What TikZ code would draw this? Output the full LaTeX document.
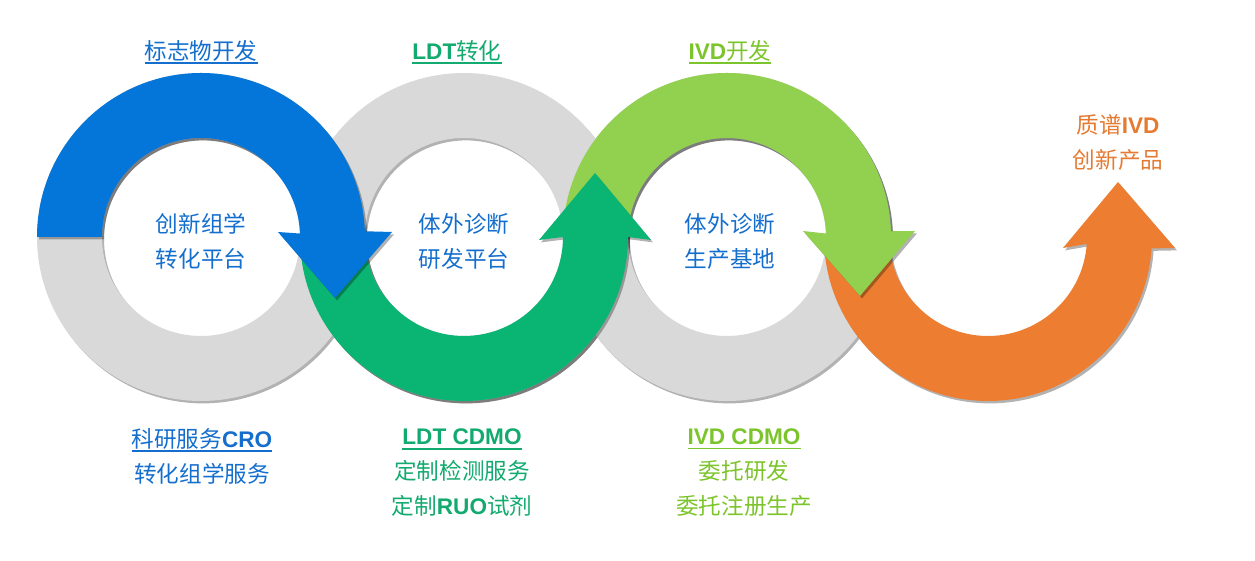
\documentclass[tikz,border=0pt]{standalone}
\usepackage{fontspec}
\setmainfont{Noto Sans CJK SC}
\newfontfamily\latin{Liberation Sans}
\usetikzlibrary{shadows}

\definecolor{ringgray}{RGB}{217,217,217}
\definecolor{bandblue}{RGB}{4,117,217}
\definecolor{bandgreen}{RGB}{10,181,116}
\definecolor{bandlime}{RGB}{146,208,80}
\definecolor{bandorange}{RGB}{237,125,49}
\definecolor{txtblue}{RGB}{20,110,205}
\definecolor{txtgreen}{RGB}{18,170,110}
\definecolor{txtlime}{RGB}{124,196,44}
\definecolor{txtorange}{RGB}{229,122,50}

\newcommand\lat[1]{{\latin\bfseries #1}}
\newsavebox\ulbox
\newcommand\uln[1]{\sbox\ulbox{#1}\rlap{\usebox\ulbox}\rule[-2.3pt]{\wd\ulbox}{0.8pt}}

\tikzset{
  softshadow/.style={drop shadow={shadow xshift=1pt,shadow yshift=-1.2pt,opacity=.3,fill=black}},
  ring/.style={fill=ringgray,softshadow},
  band/.style={fill=#1,softshadow},
  lbl/.style={font=\fontsize{11.3}{17.5}\selectfont,align=center,inner sep=0pt}
}

\begin{document}
\begin{tikzpicture}[x=0.5pt,y=0.5pt]
\useasboundingbox (0,0) rectangle (1255,561);

\coordinate (c1) at (201,324);
\coordinate (c2) at (464,324);
\coordinate (c3) at (727,324);
\coordinate (c4) at (988,324);

% grey rings
\foreach \c in {c1,c2,c3}
  \fill[ring,shift={(\c)}] (0:164) arc[start angle=0,end angle=360,radius=164]
    -- (0:99) arc[start angle=360,end angle=0,radius=99] -- cycle;

% orange arrow, up
\fill[band=bandorange,shift={(c4)}] (180:164) arc[start angle=180,end angle=356,radius=164]
  -- (187,-11) -- (130,55) -- (75,-11) -- (-4:99)
  arc[start angle=-4,end angle=-180,radius=99] -- cycle;

% light green arrow, down
\fill[band=bandlime,shift={(c3)}] (180:164) arc[start angle=180,end angle=2,radius=164]
  -- (188,6) -- (133,-59) -- (76,6) -- (2:99)
  arc[start angle=2,end angle=180,radius=99] -- cycle;

% green arrow, up
\fill[band=bandgreen,shift={(c2)}] (180:164) arc[start angle=180,end angle=360,radius=164]
  -- (187,-3) -- (131,64) -- (75,-3) -- (0:99)
  arc[start angle=0,end angle=-180,radius=99] -- cycle;

% blue arrow, down
\fill[band=bandblue,shift={(c1)}] (180:164) arc[start angle=180,end angle=2,radius=164]
  -- (191,5) -- (134,-61) -- (77,5) -- (2:99)
  arc[start angle=2,end angle=180,radius=99] -- cycle;

% labels above
\node[lbl,text=txtblue] (biomarker) at (201,509) {\uln{标志物开发}};
\node[lbl,text=txtgreen] (ldt) at (457,509) {\uln{\lat{LDT}转化}};
\node[lbl,text=txtlime] (ivd) at (730,509) {\uln{\lat{IVD}开发}};

% labels in the rings
\node[lbl,text=txtblue] (omics) at (201,320) {创新组学\\转化平台};
\node[lbl,text=txtblue] (rnd) at (464,320) {体外诊断\\研发平台};
\node[lbl,text=txtblue] (plant) at (730,320) {体外诊断\\生产基地};

% labels below
\node[lbl,text=txtblue] (cro) at (202,105) {\uln{科研服务\lat{CRO}}\\转化组学服务};
\node[lbl,text=txtgreen] (ldtcdmo) at (462,88) {\uln{\lat{LDT CDMO}}\\定制检测服务\\定制\lat{RUO}试剂};
\node[lbl,text=txtlime] (ivdcdmo) at (744,88) {\uln{\lat{IVD CDMO}}\\委托研发\\委托注册生产};

% product
\node[lbl,text=txtorange] (product) at (1118,419) {质谱\lat{IVD}\\创新产品};
\end{tikzpicture}
\end{document}
